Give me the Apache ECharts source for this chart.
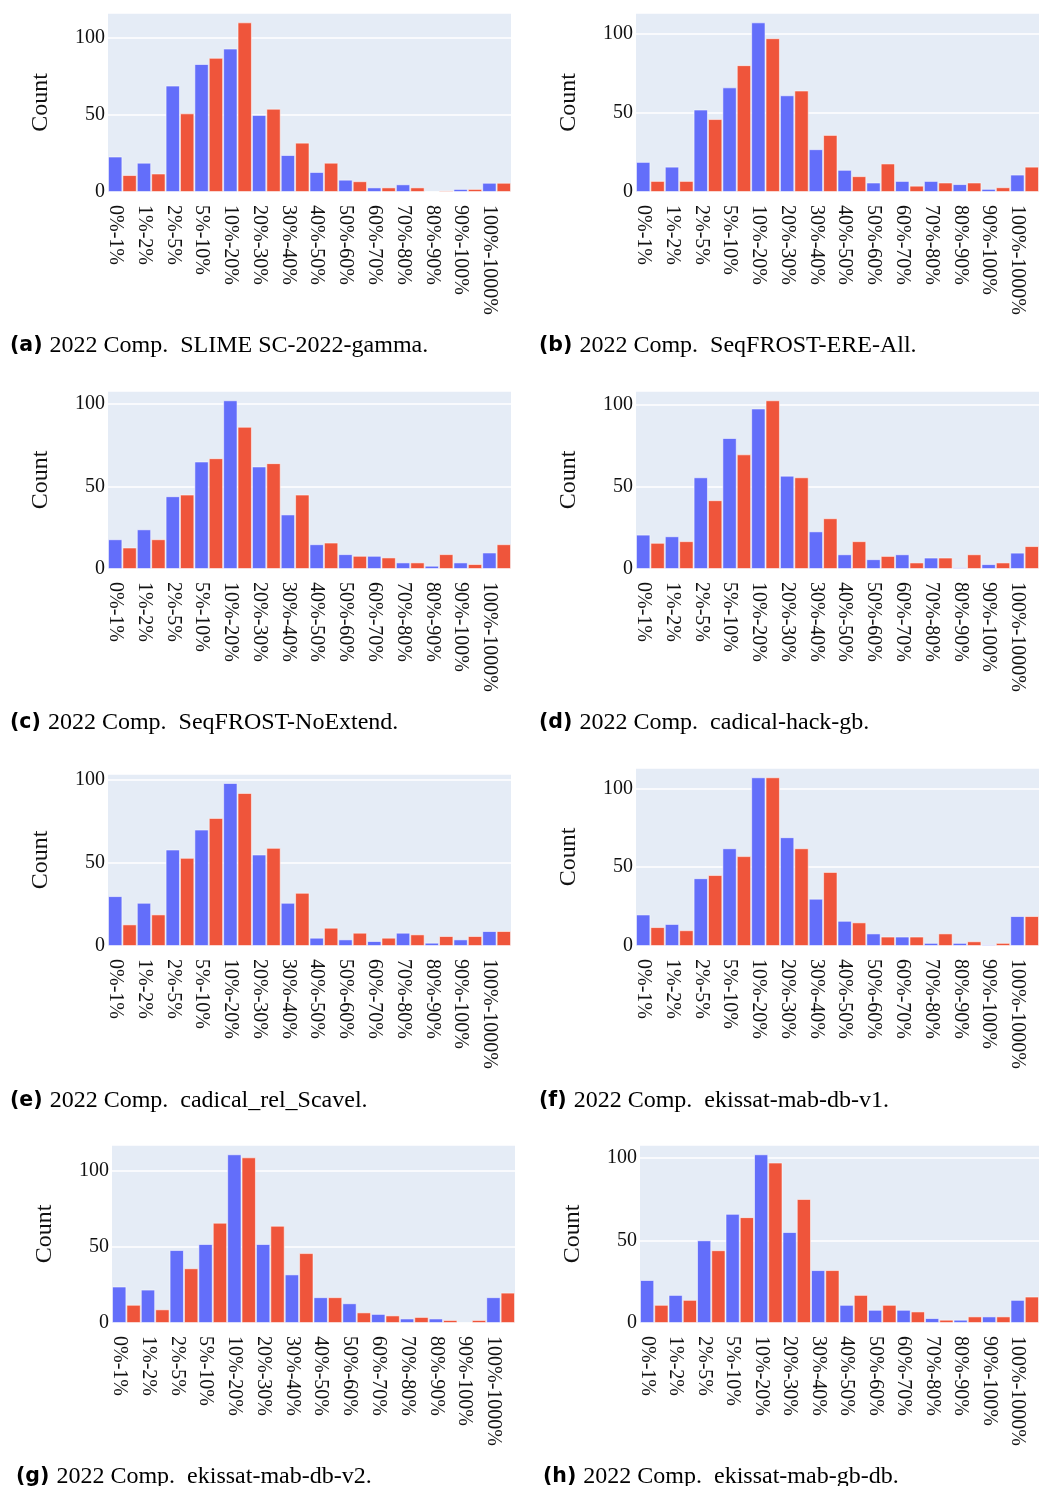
<!DOCTYPE html>
<html>
<head>
<meta charset="utf-8">
<script src="https://cdn.jsdelivr.net/npm/echarts@6/dist/echarts.min.js"></script>
<style>
  html, body { margin: 0; padding: 0; background: #ffffff; }
  #chart { width: 1039px; height: 1486px; }
</style>
</head>
<body>
<div id="chart"></div>
<script>
// ---- data ----
const categories = ['0%-1%', '1%-2%', '2%-5%', '5%-10%', '10%-20%', '20%-30%', '30%-40%',
  '40%-50%', '50%-60%', '60%-70%', '70%-80%', '80%-90%', '90%-100%', '100%-1000%'];

const yTicks = [0, 50, 100];

const blueA = [23, 19, 69, 83, 93, 50, 24, 13, 8, 3, 5, 0, 2, 6];
const redA  = [11, 12, 51, 87, 110, 54, 32, 19, 7, 3, 3, 1, 2, 6];

const blueB = [19, 16, 52, 66, 107, 61, 27, 14, 6, 7, 7, 5, 2, 11];
const redB  = [7, 7, 46, 80, 97, 64, 36, 10, 18, 4, 6, 6, 3, 16];

const blueC = [18, 24, 44, 65, 102, 62, 33, 15, 9, 8, 4, 2, 4, 10];
const redC  = [13, 18, 45, 67, 86, 64, 45, 16, 8, 7, 4, 9, 3, 15];

const blueD = [21, 20, 56, 80, 98, 57, 23, 9, 6, 9, 7, 1, 3, 10];
const redD  = [16, 17, 42, 70, 103, 56, 31, 17, 8, 4, 7, 9, 4, 14];

const blueE = [30, 26, 58, 70, 98, 55, 26, 5, 4, 3, 8, 2, 4, 9];
const redE  = [13, 19, 53, 77, 92, 59, 32, 11, 8, 5, 7, 6, 6, 9];

const blueF = [20, 14, 43, 62, 107, 69, 30, 16, 8, 6, 2, 2, 1, 19];
const redF  = [12, 10, 45, 57, 107, 62, 47, 15, 6, 6, 8, 3, 2, 19];

const blueG = [24, 22, 48, 52, 111, 52, 32, 17, 13, 6, 3, 3, 0, 17];
const redG  = [12, 9, 36, 66, 109, 64, 46, 17, 7, 5, 4, 2, 2, 20];

const blueH = [26, 17, 50, 66, 102, 55, 32, 11, 8, 8, 3, 2, 4, 14];
const redH  = [11, 14, 44, 64, 97, 75, 32, 17, 11, 7, 2, 4, 4, 16];

const captionLetters = ['(a)', '(b)', '(c)', '(d)', '(e)', '(f)', '(g)', '(h)'];
const captionTexts = [
  '2022 Comp.  SLIME SC-2022-gamma.',
  '2022 Comp.  SeqFROST-ERE-All.',
  '2022 Comp.  SeqFROST-NoExtend.',
  '2022 Comp.  cadical-hack-gb.',
  '2022 Comp.  cadical_rel_Scavel.',
  '2022 Comp.  ekissat-mab-db-v1.',
  '2022 Comp.  ekissat-mab-db-v2.',
  '2022 Comp.  ekissat-mab-gb-db.'
];
const yAxisTitle = 'Count';

const panelData = [
  [blueA, redA], [blueB, redB], [blueC, redC], [blueD, redD],
  [blueE, redE], [blueF, redF], [blueG, redG], [blueH, redH]
];

// ---- layout (positions / styles) ----
const layout = [
  { left: 108, top: 13,   width: 403, height: 179, capLeft: 10,  capTop: 334 },
  { left: 636, top: 13,   width: 403, height: 179, capLeft: 539, capTop: 334 },
  { left: 108, top: 391,  width: 403, height: 178, capLeft: 10,  capTop: 711 },
  { left: 636, top: 391,  width: 403, height: 178, capLeft: 539, capTop: 711 },
  { left: 108, top: 774,  width: 403, height: 172, capLeft: 10,  capTop: 1089 },
  { left: 636, top: 768,  width: 403, height: 178, capLeft: 539, capTop: 1089 },
  { left: 112, top: 1145, width: 403, height: 178, capLeft: 16,  capTop: 1465 },
  { left: 640, top: 1145, width: 399, height: 178, capLeft: 543, capTop: 1465 }
];

const BLUE = '#636EFA';
const RED = '#EF553B';
const SERIF = '"Liberation Serif", "Times New Roman", serif';
const TEXT = '#111111';

// x slots: each category gets a blue slot and a red slot
const xSlots = [];
categories.forEach(c => { xSlots.push(c); xSlots.push(c + ' '); });

const grid = [], xAxis = [], yAxis = [], series = [], title = [];

panelData.forEach(([blue, red], i) => {
  const L = layout[i];
  grid.push({ left: L.left, top: L.top, width: L.width, height: L.height,
    containLabel: false, show: true, backgroundColor: '#E5ECF6', borderWidth: 0 });
  xAxis.push({
    type: 'category', gridIndex: i, data: xSlots,
    boundaryGap: true,
    axisLine: { show: false }, axisTick: { show: false },
    splitLine: { show: false },
    axisLabel: {
      interval: 0, rotate: -90, margin: 13,
      fontFamily: SERIF, fontSize: 20, color: TEXT,
      formatter: (v, idx) => (idx % 2 === 0 ? v : '')
    }
  });
  const maxV = Math.max(...blue, ...red);
  yAxis.push({
    type: 'value', gridIndex: i, min: 0, max: maxV * 1.055, interval: 50,
    axisLine: { show: false }, axisTick: { show: false },
    splitLine: { show: true, lineStyle: { color: '#ffffff', width: 1.5 } },
    axisLabel: {
      margin: 3, fontFamily: SERIF, fontSize: 20, color: TEXT,
      showMaxLabel: false,
      formatter: v => (yTicks.indexOf(v) >= 0 ? String(v) : '')
    },
    name: yAxisTitle, nameLocation: 'middle', nameGap: 55, nameRotate: 90,
    nameTextStyle: { fontFamily: SERIF, fontSize: 24, color: TEXT }
  });
  const blueSlots = [], redSlots = [];
  blue.forEach(v => { blueSlots.push(v, null); });
  red.forEach(v => { redSlots.push(null, v); });
  const itemBase = { borderColor: 'rgba(255,255,255,0.55)', borderWidth: 1 };
  series.push({
    type: 'bar', xAxisIndex: i, yAxisIndex: i, data: blueSlots,
    barGap: '-100%', barCategoryGap: '0%',
    itemStyle: Object.assign({ color: BLUE }, itemBase), silent: true
  });
  series.push({
    type: 'bar', xAxisIndex: i, yAxisIndex: i, data: redSlots,
    barGap: '-100%', barCategoryGap: '0%',
    itemStyle: Object.assign({ color: RED }, itemBase), silent: true
  });
  title.push({
    left: L.capLeft, top: L.capTop, padding: 0,
    text: '{b|' + captionLetters[i] + '}{n|' + captionTexts[i] + '}',
    textStyle: {
      fontWeight: 'normal',
      rich: {
        b: { fontFamily: '"DejaVu Sans", sans-serif', fontWeight: 'bold', fontSize: 20.5,
             color: '#000', padding: [0, 7, 0, 0] },
        n: { fontFamily: SERIF, fontWeight: 'normal', fontSize: 24, color: '#000' }
      }
    }
  });
});

const chart = echarts.init(document.getElementById('chart'), null, { renderer: 'canvas' });
chart.setOption({
  animation: false,
  backgroundColor: '#ffffff',
  title, grid, xAxis, yAxis, series
});
</script>
</body>
</html>
